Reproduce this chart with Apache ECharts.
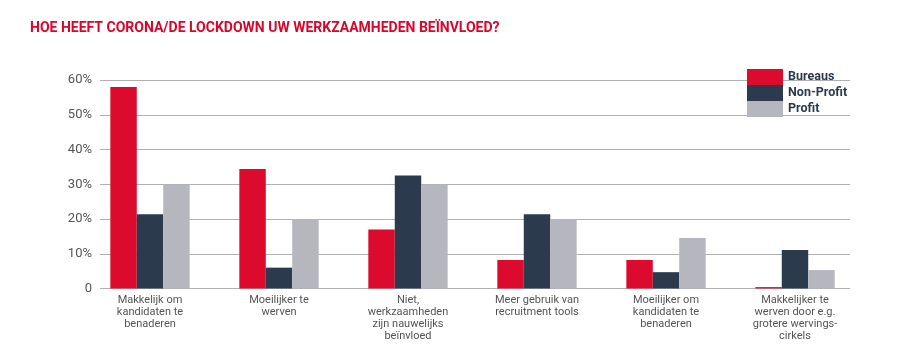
<!DOCTYPE html>
<html><head><meta charset="utf-8">
<script src="https://cdn.jsdelivr.net/npm/echarts@6/dist/echarts.min.js"></script>
<style>html,body{margin:0;padding:0;background:#fff}#c{width:909px;height:361px}</style>
</head><body><div id="c"></div>
<script>
const categories = [
  "Makkelijk om\nkandidaten te\nbenaderen",
  "Moeilijker te\nwerven",
  "Niet,\nwerkzaamheden\nzijn nauwelijks\nbeïnvloed",
  "Meer gebruik van\nrecruitment tools",
  "Moeilijker om\nkandidaten te\nbenaderen",
  "Makkelijker te\nwerven door e.g.\ngrotere wervings-\ncirkels"
];
const bureaus = [58, 34.4, 17, 8.2, 8.2, 0.4];
const nonProfit = [21.4, 6, 32.5, 21.4, 4.7, 11.1];
const profit = [30, 20, 30, 20, 14.5, 5.3];
const yTicks = [0, 10, 20, 30, 40, 50, 60];

const chart = echarts.init(document.getElementById('c'), null, {renderer: 'canvas'});
const font = 'Roboto, "Noto Sans", sans-serif';
chart.setOption({
  animation: false,
  title: {
    text: 'HOE HEEFT CORONA/DE LOCKDOWN UW WERKZAAMHEDEN BEÏNVLOED?',
    left: 25, top: 16, padding: [5, 5],
    textStyle: {color: '#d7062c', fontSize: 14, fontWeight: 'bold', fontFamily: font}
  },
  legend: {
    orient: 'vertical', left: 747, top: 69, itemGap: 0, padding: 0,
    itemWidth: 36, itemHeight: 16,
    icon: 'rect',
    textStyle: {color: '#2b3a4c', fontSize: 12.5, fontWeight: 'bold', fontFamily: font, padding: [5, 0, 0, 0]},
    data: ['Bureaus', 'Non-Profit', 'Profit']
  },
  grid: [
    {left: 100, right: 59, top: 80, bottom: 72.5},
    {left: 85.5, width: 774, top: 80, bottom: 72.5}
  ],
  xAxis: [
    {type: 'value', gridIndex: 0, show: false, min: 0, max: 1},
    {type: 'category', gridIndex: 1, data: categories,
     axisLine: {show: false}, axisTick: {show: false},
     axisLabel: {color: '#555', fontSize: 11, lineHeight: 12, margin: 6, fontFamily: font, interval: 0}}
  ],
  yAxis: [
    {type: 'value', gridIndex: 0, min: yTicks[0], max: yTicks[yTicks.length-1], interval: 10,
     axisLine: {show: false}, axisTick: {show: false},
     splitLine: {lineStyle: {color: '#b0b0b0', width: 1}},
     axisLabel: {color: '#555', fontSize: 13, margin: 8, fontFamily: font,
       formatter: v => v === 0 ? '0' : v + '%'}},
    {type: 'value', gridIndex: 1, min: 0, max: 60, show: false}
  ],
  series: [
    {name: 'Bureaus', type: 'bar', xAxisIndex: 1, yAxisIndex: 1, data: bureaus, itemStyle: {color: '#dc0a2d'}, barGap: '0%', barCategoryGap: '38.5%'},
    {name: 'Non-Profit', type: 'bar', xAxisIndex: 1, yAxisIndex: 1, data: nonProfit, itemStyle: {color: '#2b3a4c'}},
    {name: 'Profit', type: 'bar', xAxisIndex: 1, yAxisIndex: 1, data: profit, itemStyle: {color: '#b5b6be'}}
  ]
});
</script></body></html>
